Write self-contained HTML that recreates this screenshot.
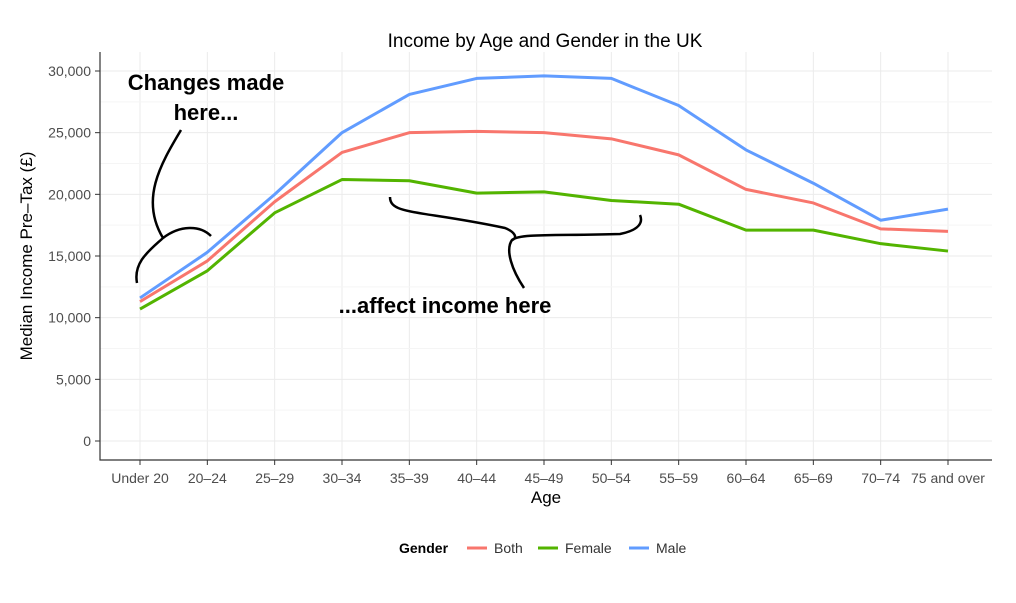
<!DOCTYPE html>
<html><head><meta charset="utf-8"><style>
body{margin:0;background:#fff;width:1016px;height:598px;overflow:hidden}
text{font-family:"Liberation Sans",sans-serif}
</style></head><body>
<svg id="c" width="1016" height="598"></svg>
<script>
const categories=["Under 20","20\u201324","25\u201329","30\u201334","35\u201339","40\u201344","45\u201349","50\u201354","55\u201359","60\u201364","65\u201369","70\u201374","75 and over"];
const maleValues=[11600,15300,20000,25000,28100,29400,29600,29400,27200,23600,20900,17900,18800];
const bothValues=[11300,14600,19400,23400,25000,25100,25000,24500,23200,20400,19300,17200,17000];
const femaleValues=[10700,13800,18500,21200,21100,20100,20200,19500,19200,17100,17100,16000,15400];
const yTicks=[0,5000,10000,15000,20000,25000,30000];
const yTickLabels=["0","5,000","10,000","15,000","20,000","25,000","30,000"];
const NS="http://www.w3.org/2000/svg";
const svg=document.getElementById('c');
function mk(t,a,p){const e=document.createElementNS(NS,t);for(const k in a)e.setAttribute(k,a[k]);(p||svg).appendChild(e);return e;}
const x=i=>140+i*(948-140)/(categories.length-1);
const y=v=>441-v*(441-71)/30000;
// grid
for(let i=0;i<categories.length;i++){const g=mk('line',{x1:x(i),x2:x(i),y1:52,y2:460,stroke:'#ebebeb','stroke-width':1});
}
for(let j=0;j<yTicks.length;j++){const g=mk('line',{x1:100,x2:992,y1:y(yTicks[j]),y2:y(yTicks[j]),stroke:'#ebebeb','stroke-width':1});

if(j<yTicks.length-1){const m=mk('line',{x1:100,x2:992,y1:y(yTicks[j]+2500),y2:y(yTicks[j]+2500),stroke:'#f5f5f5','stroke-width':1});
}
const t=mk('line',{x1:95,x2:100,y1:y(yTicks[j]),y2:y(yTicks[j]),stroke:'#333'});

const l=mk('text',{x:91,y:y(yTicks[j])+5,'text-anchor':'end','font-size':14,fill:'#4d4d4d'});l.textContent=yTickLabels[j];
}
categories.forEach((c,i)=>{const t=mk('line',{x1:x(i),x2:x(i),y1:460,y2:465,stroke:'#333'});

const l=mk('text',{x:x(i),y:483,'text-anchor':'middle','font-size':14,fill:'#4d4d4d'});l.textContent=c;
});
const ax=mk('path',{d:'M100 52V460H992',fill:'none',stroke:'#333','stroke-width':1.2});

const series=[[bothValues,'#f8766d','line-both'],[femaleValues,'#53b400','line-female'],[maleValues,'#619cff','line-male']];
series.forEach(([vals,col,n])=>{const p=mk('polyline',{points:vals.map((v,i)=>x(i)+','+y(v)).join(' '),fill:'none',stroke:col,'stroke-width':3,'stroke-linejoin':'round'});
});
</script>
<svg width="1016" height="598" style="position:absolute;left:0;top:0">
<text x="545" y="47" text-anchor="middle" font-size="19" fill="#000">Income by Age and Gender in the UK</text>
<text x="546" y="503" text-anchor="middle" font-size="17" fill="#000">Age</text>
<text transform="translate(32,256) rotate(-90)" text-anchor="middle" font-size="17" fill="#000">Median Income Pre–Tax (£)</text>
<text x="206" y="90" text-anchor="middle" font-size="22" font-weight="bold" font-family="DejaVu Sans">Changes made</text>
<text x="206" y="120" text-anchor="middle" font-size="22" font-weight="bold" font-family="DejaVu Sans">here...</text>
<text x="445" y="313" text-anchor="middle" font-size="22" font-weight="bold" font-family="DejaVu Sans">...affect income here</text>
<path d="M181 130 C160 165 140 200 163 238 C150 250 133 262 137 283 M163 238 C180 225 200 225 211 236" fill="none" stroke="#000" stroke-width="2.5"/>
<path d="M390 197 C390 215 420 210 505 228 C515 232 518 238 512 240 C505 250 512 270 524 288 M512 240 C520 233 560 236 620 234 C640 230 643 222 640 215" fill="none" stroke="#000" stroke-width="2.5"/>
<g>
<text x="399" y="553" font-size="14" font-weight="bold">Gender</text>
<line x1="467" y1="548" x2="487" y2="548" stroke="#f8766d" stroke-width="3"/>
<text x="494" y="553" font-size="14" fill="#333">Both</text>
<line x1="538" y1="548" x2="558" y2="548" stroke="#53b400" stroke-width="3"/>
<text x="565" y="553" font-size="14" fill="#333">Female</text>
<line x1="629" y1="548" x2="649" y2="548" stroke="#619cff" stroke-width="3"/>
<text x="656" y="553" font-size="14" fill="#333">Male</text>
</g>
</svg>
</body></html>
